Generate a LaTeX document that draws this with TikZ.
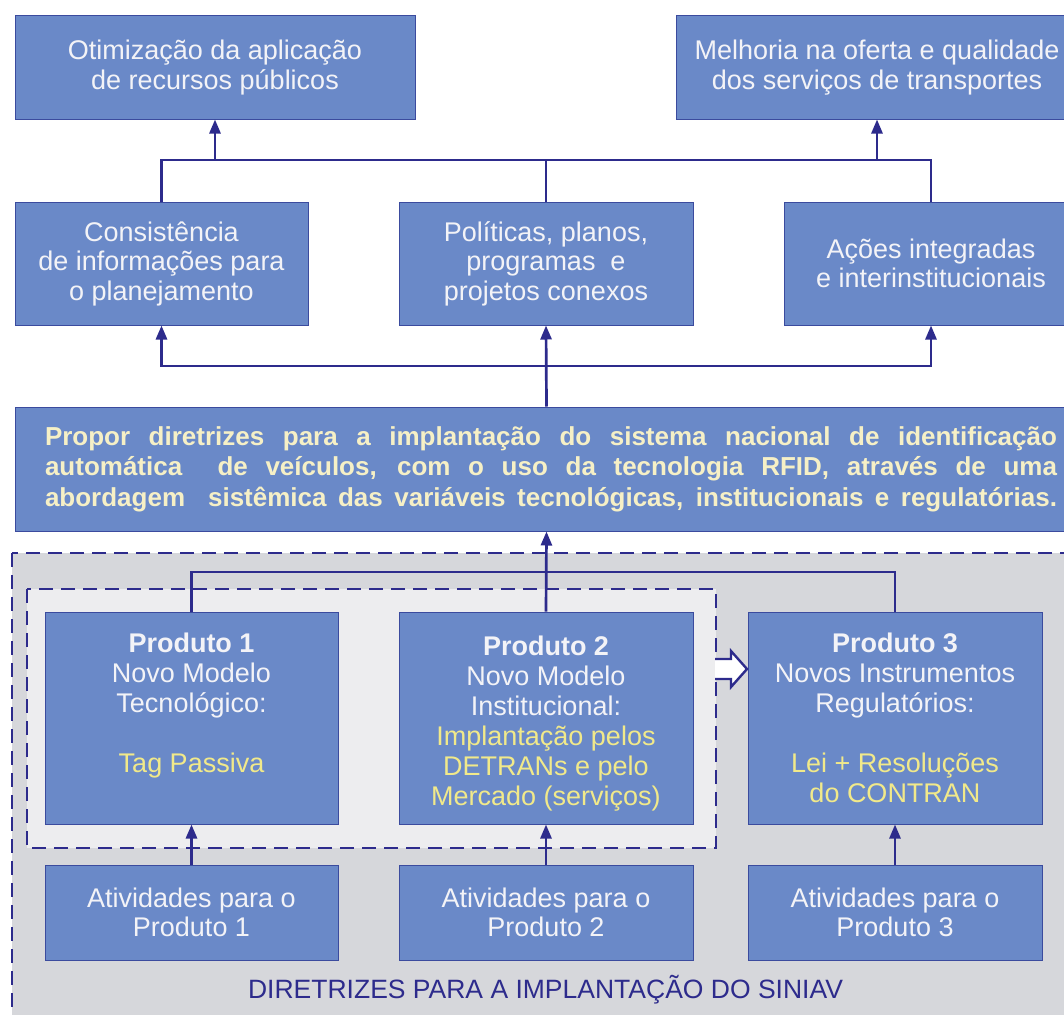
\documentclass[tikz,border=0pt]{standalone}
\usepackage{fontspec}
\setmainfont{Liberation Sans}
\usetikzlibrary{arrows.meta,calc}
\definecolor{boxblue}{HTML}{6A89C8}
\definecolor{boxedge}{HTML}{3B4B9E}
\definecolor{navy}{HTML}{2D2B8C}
\definecolor{lighttext}{HTML}{F3F3F7}
\definecolor{goldtext}{HTML}{F1E98A}
\definecolor{creamtext}{HTML}{F6F0C6}
\definecolor{outergray}{HTML}{D6D7DB}
\definecolor{innergray}{HTML}{EDEDEF}
\begin{document}
\begin{tikzpicture}[x=1pt,y=-1pt,
  card/.style={draw=boxedge, line width=1pt, fill=boxblue, text=lighttext,
    align=center, inner sep=0pt, font=\fontsize{27}{29.5}\selectfont},
  link/.style={draw=navy, line width=2.7pt},
  arr/.style={link, -{Triangle[width=11pt,length=14pt]}},
  region/.style={draw=navy, line width=2.6pt, dash pattern=on 14pt off 8pt},
  hi/.style={text=goldtext}]

\useasboundingbox (0,0) rectangle (1064,1014);
\clip (0,0) rectangle (1064,1014);
\fill[white] (0,0) rectangle (1064,1014);

% grey working areas
\path[region, fill=outergray] (12,553) rectangle (1090,1040);
\path[region, fill=innergray] (27,589) rectangle (716,848);

% results
\node[card, minimum width=400pt, minimum height=103pt] (A) at (215,67.5)
  {Otimização da aplicação\\de recursos públicos};
\node[card, minimum width=402pt, minimum height=103pt] (B) at (877,67.5)
  {Melhoria na oferta e qualidade\\dos serviços de transportes};

% intermediate effects
\node[card, minimum width=293pt, minimum height=123pt] (C) at (161.5,263.5)
  {Consistência\\de informações para\\o planejamento};
\node[card, minimum width=294pt, minimum height=123pt] (D) at (546,263.5)
  {Políticas, planos,\\programas \ e\\projetos conexos};
\node[card, minimum width=294pt, minimum height=123pt] (E) at (931,263.5)
  {Ações integradas\\e interinstitucionais};

% objective
\node[card, minimum width=1063pt, minimum height=124pt, text=creamtext,
      font=\fontsize{26}{30.5}\selectfont\bfseries] (P) at (546.5,469)
  {\hspace*{9pt}\parbox{1012pt}{%
    \makebox[1012pt][s]{Propor diretrizes para a implantação do sistema nacional de identificação}\\
    \makebox[1012pt][s]{automática\ \ de veículos, com o uso da tecnologia RFID, através de uma}\\
    \makebox[1012pt][s]{abordagem\ \ sistêmica das variáveis tecnológicas, institucionais e regulatórias.}}};

% products
\node[card, minimum width=293pt, minimum height=212pt, font=\fontsize{27}{30}\selectfont] (P1) at (191.5,718)
  {\textbf{Produto 1}\\Novo Modelo\\Tecnológico:\\\mbox{}\\\textcolor{goldtext}{Tag Passiva}\\\mbox{}};
\node[card, minimum width=294pt, minimum height=212pt, font=\fontsize{27}{30}\selectfont] (P2) at (546,718)
  {\rule{0pt}{30pt}\textbf{Produto 2}\\Novo Modelo\\Institucional:\\\textcolor{goldtext}{Implantação pelos}\\\textcolor{goldtext}{DETRANs e pelo}\\\textcolor{goldtext}{Mercado (serviços)}};
\node[card, minimum width=294pt, minimum height=212pt, font=\fontsize{27}{30}\selectfont] (P3) at (895,718)
  {\textbf{Produto 3}\\Novos Instrumentos\\Regulatórios:\\\mbox{}\\\textcolor{goldtext}{Lei + Resoluções}\\\textcolor{goldtext}{do CONTRAN}};

% activities
\node[card, minimum width=293pt, minimum height=95pt] (A1) at (191.5,912.5)
  {Atividades para o\\Produto 1};
\node[card, minimum width=294pt, minimum height=95pt] (A2) at (546,912.5)
  {Atividades para o\\Produto 2};
\node[card, minimum width=294pt, minimum height=95pt] (A3) at (895,912.5)
  {Atividades para o\\Produto 3};

\node[text=navy, font=\fontsize{26.5}{30}\selectfont, anchor=base] (title) at (545.5,998)
  {DIRETRIZES PARA A IMPLANTAÇÃO DO SINIAV};

% junction points of the buses
\coordinate (topbus) at (546,160);
\coordinate (midbus) at (546,366);
\coordinate (prodbus) at (546,572);

% connectors
\draw[link] (C.north) |- (topbus) -| (E.north);
\draw[link] (D.north) -- (topbus);
\draw[arr] (A.south |- topbus) -- (A.south);
\draw[arr] (B.south |- topbus) -- (B.south);

\draw[arr] (midbus) -| (C.south);
\draw[arr] (midbus) -| (E.south);
\draw[arr] (P.north) -- (D.south);

\draw[link] (P1.north) |- (prodbus) -| (P3.north);
\draw[arr] (P2.north) -- (P.south);

\draw[arr] (A1.north) -- (P1.south);
\draw[arr] (A2.north) -- (P2.south);
\draw[arr] (A3.north) -- (P3.south);

% hollow block arrow towards Produto 3
\fill[white] (715,659) -- (731,659) -- (731,651) -- (747,669) -- (731,687) -- (731,679) -- (715,679) -- cycle;
\draw[navy, line width=2.4pt, line join=miter]
  (715,659) -- (731,659) -- (731,651) -- (747,669) -- (731,687) -- (731,679) -- (715,679);
\end{tikzpicture}
\end{document}
